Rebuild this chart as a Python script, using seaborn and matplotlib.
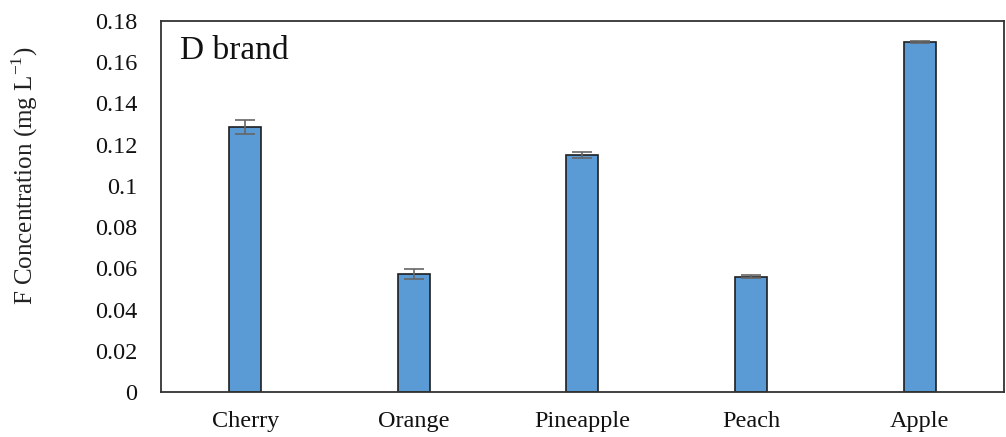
import matplotlib
matplotlib.use("Agg")
import matplotlib.pyplot as plt
import seaborn as sns
import pandas as pd

# Fluoride concentration in D brand juices
categories = ["Cherry", "Orange", "Pineapple", "Peach", "Apple"]
concentration = [0.1285, 0.0573, 0.1150, 0.0560, 0.1698]
std_dev = [0.0033, 0.0023, 0.0015, 0.0007, 0.0003]
y_ticks = [0, 0.02, 0.04, 0.06, 0.08, 0.1, 0.12, 0.14, 0.16, 0.18]
y_tick_labels = ["0", "0.02", "0.04", "0.06", "0.08", "0.1", "0.12", "0.14", "0.16", "0.18"]

sns.set_theme(style="white")
plt.rcParams["font.family"] = ["Liberation Serif", "DejaVu Serif"]
plt.rcParams["mathtext.fontset"] = "custom"
plt.rcParams["mathtext.rm"] = "Liberation Serif"

df = pd.DataFrame({"fruit": categories, "conc": concentration})

fig, ax = plt.subplots(figsize=(10.06, 4.37), dpi=100)
fig.subplots_adjust(left=0.160, right=0.998, top=0.952, bottom=0.103)

sns.barplot(data=df, x="fruit", y="conc", color="#5B9BD5", saturation=1,
            width=0.19, edgecolor="#1f1f1f", linewidth=1.2, errorbar=None, ax=ax)

ax.errorbar(range(len(categories)), concentration, yerr=std_dev, fmt="none",
            ecolor="#666666", elinewidth=1.2, capsize=7, capthick=1.2, zorder=5)

ax.set_ylim(0, 0.18)
ax.set_xlim(-0.5, len(categories) - 0.5)
ax.set_yticks(y_ticks)
ax.set_yticklabels(y_tick_labels)
ax.tick_params(axis="y", labelsize=17.5, length=0, pad=17, colors="#111111")
ax.tick_params(axis="x", labelsize=17.5, length=0, pad=14, colors="#111111")
ax.set_xlabel("")
ax.set_ylabel("")

# axis title placed slightly above the axes' vertical centre
fig.text(0.025, 0.597, r"F Concentration (mg L$^{-1}$)", rotation=90,
         fontsize=18, ha="center", va="center", color="#222222")

for side in ["left", "right", "top", "bottom"]:
    ax.spines[side].set_visible(True)
    ax.spines[side].set_color("#333333")
    ax.spines[side].set_linewidth(1.3)

ax.text(0.022, 0.96, "D brand", transform=ax.transAxes, fontsize=24,
        ha="left", va="top", color="#111111")

fig.savefig("out.png", dpi=100)
